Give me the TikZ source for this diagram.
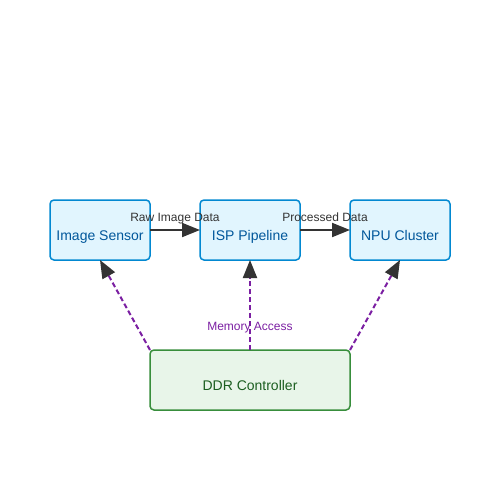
\documentclass[tikz,border=0pt]{standalone}
\usepackage{fontspec}
\setmainfont{Liberation Sans}
\usepackage{xcolor}
\definecolor{stageblue}{HTML}{0288D1}
\definecolor{stagefill}{HTML}{E1F5FE}
\definecolor{stagetext}{HTML}{01579B}
\definecolor{memgreen}{HTML}{388E3C}
\definecolor{memfill}{HTML}{E8F5E9}
\definecolor{memtext}{HTML}{1B5E20}
\definecolor{accesspurple}{HTML}{7B1FA2}
\definecolor{flowgray}{HTML}{333333}
\usepackage{tikz}
\usetikzlibrary{
    arrows.meta,
    positioning
}
\tikzstyle{stage} = [
    rectangle,
    rounded corners=4pt,
    draw=stageblue,
    fill=stagefill,
    line width=1.5pt,
    outer sep=0pt,
    text=stagetext,
    text centered,
    minimum height=60pt,
    minimum width=100pt,
    font=\fontsize{14pt}{16pt}\selectfont
]
\tikzstyle{flow} = [
    -{Triangle[length=18pt,width=14pt]},
    draw=flowgray,
    line width=2pt
]

\begin{document}
\begin{tikzpicture}[
    x=1pt, y=1pt,
    node distance=50pt,
    memnode/.style={rectangle, rounded corners=4pt, draw=memgreen, fill=memfill, line width=1.5pt, outer sep=0pt, text=memtext, minimum width=200pt, minimum height=60pt, font=\fontsize{14pt}{16pt}\selectfont},
    access/.style={-{Triangle[length=18pt,width=14pt,color=flowgray]}, draw=accesspurple, line width=2pt, dash pattern=on 5pt off 3pt},
    flowlabel/.style={font=\fontsize{12pt}{14pt}\selectfont, text=flowgray, inner sep=1pt, text height=9pt, text depth=2.6pt},
    accesslabel/.style={font=\fontsize{12pt}{14pt}\selectfont, text=accesspurple, inner sep=1pt}
]
    \useasboundingbox (0,0) rectangle (500,-500);

    % Processing stages
    \node[stage] (sensor) at (100,-230) {\raisebox{-10pt}[0pt][0pt]{Image Sensor}};
    \node[stage, right=of sensor] (isp) {\raisebox{-10pt}[0pt][0pt]{ISP Pipeline}};
    \node[stage, right=of isp] (npu) {\raisebox{-10pt}[0pt][0pt]{NPU Cluster}};

    % Shared memory
    \node[memnode, below=90pt of isp] (ddr) {\raisebox{-10pt}[0pt][0pt]{DDR Controller}};

    % Data flow
    \draw[flow] (sensor) -- node[flowlabel, above=4pt] {Raw Image Data} (isp);
    \draw[flow] (isp) -- node[flowlabel, above=4pt] {Processed Data} (npu);

    % Memory access
    \draw[access] (ddr.north west) -- (sensor.south);
    \draw[access] (ddr.north) -- node[accesslabel, pos=0.25] {Memory Access} (isp.south);
    \draw[access] (ddr.north east) -- (npu.south);

\end{tikzpicture}
\end{document}
